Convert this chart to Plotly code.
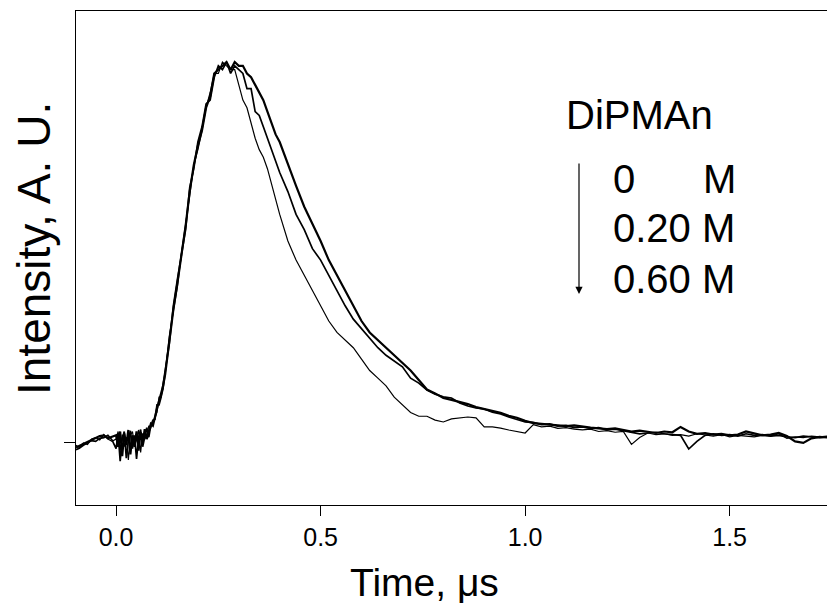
import plotly.graph_objects as go

# Time axis shared by the three transients (microseconds)
time_us = [
    -0.098, -0.09, -0.08, -0.07, -0.06, -0.05, -0.04, -0.03, -0.02, -0.01,
    0.0, 0.005, 0.01, 0.015, 0.02, 0.025, 0.03, 0.035, 0.04, 0.045,
    0.05, 0.055, 0.06, 0.065, 0.07, 0.075, 0.08, 0.085, 0.09, 0.095,
    0.10, 0.105, 0.11, 0.115, 0.12, 0.13, 0.14, 0.15, 0.16, 0.17, 0.18,
    0.19, 0.20, 0.21, 0.22, 0.23, 0.24, 0.25, 0.26, 0.27, 0.28, 0.29,
    0.30, 0.31, 0.32, 0.33, 0.34, 0.35, 0.36, 0.37, 0.38, 0.39, 0.40,
    0.42, 0.44, 0.46, 0.48, 0.50, 0.52, 0.54, 0.56, 0.58, 0.60,
    0.62, 0.64, 0.66, 0.68, 0.70, 0.72, 0.74, 0.76, 0.78, 0.80,
    0.82, 0.84, 0.86, 0.88, 0.90, 0.92, 0.94, 0.96, 0.98, 1.00,
    1.02, 1.04, 1.06, 1.08, 1.10, 1.12, 1.14, 1.16, 1.18, 1.20,
    1.22, 1.24, 1.26, 1.28, 1.30, 1.32, 1.34, 1.36, 1.38, 1.40,
    1.42, 1.44, 1.46, 1.48, 1.50, 1.52, 1.54, 1.56, 1.58, 1.60,
    1.62, 1.64, 1.66, 1.68, 1.70, 1.72, 1.74,
]

# Normalised transient absorption, [DiPMAn] = 0 M
signal_0M = [
    -0.012, -0.008, -0.002, 0.004, 0.008, 0.012, 0.018, 0.020, 0.012, 0.016,
    0.020, -0.010, 0.030, -0.035, 0.025, -0.005, 0.034, -0.030, 0.020, -0.010,
    0.030, -0.020, 0.028, 0.000, 0.036, 0.010, 0.030, 0.050, 0.045, 0.070,
    0.09, 0.11, 0.13, 0.15, 0.18, 0.27, 0.35, 0.42, 0.49, 0.57, 0.66,
    0.73, 0.78, 0.82, 0.88, 0.91, 0.97, 0.98, 0.99, 1.00, 0.98, 1.00,
    0.99, 0.99, 0.97, 0.96, 0.94, 0.92, 0.90, 0.87, 0.84, 0.81, 0.79,
    0.73, 0.675, 0.62, 0.575, 0.53, 0.48, 0.44, 0.40, 0.36, 0.32,
    0.29, 0.27, 0.25, 0.23, 0.21, 0.19, 0.165, 0.14, 0.13, 0.118,
    0.113, 0.108, 0.102, 0.094, 0.089, 0.084, 0.079, 0.071, 0.066, 0.058,
    0.052, 0.050, 0.048, 0.046, 0.044, 0.046, 0.042, 0.040, 0.038, 0.036,
    0.038, 0.034, 0.030, 0.032, 0.028, 0.026, 0.030, 0.028, 0.042, 0.030,
    0.024, 0.026, 0.022, 0.024, 0.020, 0.022, 0.030, 0.024, 0.020, 0.022,
    0.026, 0.018, 0.004, 0.000, 0.012, 0.016, 0.014,
]

# [DiPMAn] = 0.20 M
signal_020M = [
    -0.018, -0.014, -0.006, 0.000, 0.006, 0.004, 0.012, 0.014, 0.020, 0.008,
    -0.015, 0.025, -0.048, 0.010, 0.030, -0.040, 0.005, 0.032, -0.015, 0.020,
    -0.042, 0.015, 0.035, -0.010, 0.020, 0.040, 0.015, 0.046, 0.060, 0.062,
    0.10, 0.10, 0.12, 0.16, 0.19, 0.26, 0.36, 0.43, 0.49, 0.56, 0.67,
    0.72, 0.79, 0.83, 0.89, 0.90, 0.96, 0.99, 0.98, 1.00, 0.97, 0.99,
    0.98, 0.97, 0.93, 0.93, 0.87, 0.86, 0.83, 0.80, 0.77, 0.74, 0.71,
    0.66, 0.60, 0.56, 0.51, 0.48, 0.44, 0.40, 0.36, 0.325, 0.30,
    0.275, 0.25, 0.23, 0.215, 0.20, 0.17, 0.157, 0.139, 0.128, 0.121,
    0.118, 0.105, 0.097, 0.092, 0.089, 0.081, 0.076, 0.068, 0.062, 0.055,
    0.054, 0.048, 0.050, 0.044, 0.046, 0.040, 0.042, 0.038, 0.040, 0.034,
    0.036, 0.032, 0.028, 0.024, 0.026, 0.028, 0.024, 0.022, 0.020, -0.016,
    0.004, 0.020, 0.024, 0.020, 0.022, 0.018, 0.024, 0.020, 0.022, 0.018,
    0.020, 0.016, 0.014, 0.018, 0.016, 0.014, 0.016,
]

# [DiPMAn] = 0.60 M
signal_060M = [
    -0.006, -0.012, 0.000, -0.004, 0.010, 0.014, 0.008, 0.022, 0.010, 0.004,
    0.010, 0.030, -0.020, 0.022, -0.010, 0.015, -0.045, 0.020, 0.030, -0.005,
    0.010, 0.034, -0.025, 0.025, 0.010, 0.020, 0.045, 0.040, 0.055, 0.066,
    0.08, 0.12, 0.12, 0.14, 0.18, 0.28, 0.34, 0.41, 0.50, 0.57, 0.65,
    0.73, 0.77, 0.82, 0.88, 0.92, 0.97, 0.97, 1.00, 0.99, 0.98, 0.98,
    0.94, 0.90, 0.88, 0.84, 0.80, 0.77, 0.75, 0.72, 0.68, 0.64, 0.60,
    0.53, 0.48, 0.44, 0.40, 0.36, 0.32, 0.29, 0.27, 0.25, 0.22,
    0.19, 0.17, 0.15, 0.12, 0.10, 0.08, 0.07, 0.07, 0.06, 0.055,
    0.063, 0.066, 0.068, 0.066, 0.042, 0.042, 0.039, 0.034, 0.029, 0.026,
    0.048, 0.042, 0.044, 0.038, 0.040, 0.036, 0.034, 0.036, 0.030, 0.032,
    0.028, 0.030, -0.004, 0.014, 0.026, 0.022, 0.024, 0.020, 0.022, 0.018,
    0.024, 0.020, 0.018, 0.022, 0.016, 0.020, 0.018, 0.016, 0.020, 0.018,
    0.024, 0.012, 0.016, 0.014, 0.018, 0.016, 0.018,
]

x_ticks = [0.0, 0.5, 1.0, 1.5]
x_tick_labels = ["0.0", "0.5", "1.0", "1.5"]
legend_title = "DiPMAn"
legend_rows = ["0", "0.20 M", "0.60 M"]

for s in (signal_0M, signal_020M, signal_060M):
    assert len(s) == len(time_us)

FONT = "Liberation Sans, Arial, Helvetica, sans-serif"
W, H = 827, 611
ML, MR, MT, MB = 76, 0, 11, 106
PW, PH = W - ML - MR, H - MT - MB


def px(xp):
    return (xp - ML) / PW


def py(yp):
    return (H - MB - yp) / PH


fig = go.Figure()
traces = [
    (signal_060M, 1.2, "0.60 M"),
    (signal_020M, 1.7, "0.20 M"),
    (signal_0M, 2.2, "0 M"),
]
for ys, w, name in traces:
    fig.add_trace(go.Scatter(
        x=time_us, y=ys, mode="lines", name=name,
        line=dict(color="black", width=w),
        showlegend=False,
    ))

annotations = [
    dict(text="Time, μs", x=px(424), y=py(582), xref="paper", yref="paper",
         showarrow=False, xanchor="center", yanchor="middle",
         font=dict(size=39, color="black", family=FONT)),
    dict(text="Intensity, A. U.", x=px(34), y=py(249), xref="paper", yref="paper",
         showarrow=False, xanchor="center", yanchor="middle", textangle=-90,
         font=dict(size=46, color="black", family=FONT)),
    dict(text=legend_title, x=px(564), y=py(115), xref="paper", yref="paper",
         showarrow=False, xanchor="left", yanchor="middle",
         font=dict(size=40, color="black", family=FONT)),
    dict(text=legend_rows[0], x=px(611), y=py(179), xref="paper", yref="paper",
         showarrow=False, xanchor="left", yanchor="middle",
         font=dict(size=40, color="black", family=FONT)),
    dict(text="M", x=px(701), y=py(179), xref="paper", yref="paper",
         showarrow=False, xanchor="left", yanchor="middle",
         font=dict(size=40, color="black", family=FONT)),
    dict(text=legend_rows[1], x=px(611), y=py(228), xref="paper", yref="paper",
         showarrow=False, xanchor="left", yanchor="middle",
         font=dict(size=40, color="black", family=FONT)),
    dict(text=legend_rows[2], x=px(611), y=py(279), xref="paper", yref="paper",
         showarrow=False, xanchor="left", yanchor="middle",
         font=dict(size=40, color="black", family=FONT)),
    # downward arrow: increasing quencher concentration
    dict(text="", x=px(579), y=py(294), xref="paper", yref="paper",
         ax=0, ay=-132, axref="pixel", ayref="pixel",
         showarrow=True, arrowhead=2, arrowsize=1.2, arrowwidth=1.2,
         arrowcolor="black"),
]

fig.update_layout(
    width=W, height=H,
    margin=dict(l=ML, r=MR, t=MT, b=MB, pad=0),
    paper_bgcolor="white", plot_bgcolor="white",
    font=dict(family=FONT, color="black"),
    annotations=annotations,
)
fig.update_xaxes(
    range=[-0.098, 1.738],
    tickvals=x_ticks, ticktext=x_tick_labels,
    ticks="outside", ticklen=10, tickwidth=1, tickcolor="black",
    tickfont=dict(size=25, color="black", family=FONT),
    showline=True, linecolor="black", linewidth=1, mirror=True,
    showgrid=False, zeroline=False,
)
fig.update_yaxes(
    range=[-0.163, 1.134],
    tickvals=[0], ticks="outside", ticklen=11, tickwidth=1, tickcolor="black",
    showticklabels=False,
    showline=True, linecolor="black", linewidth=1,
    showgrid=False, zeroline=False,
)

fig.write_html("out.html")
